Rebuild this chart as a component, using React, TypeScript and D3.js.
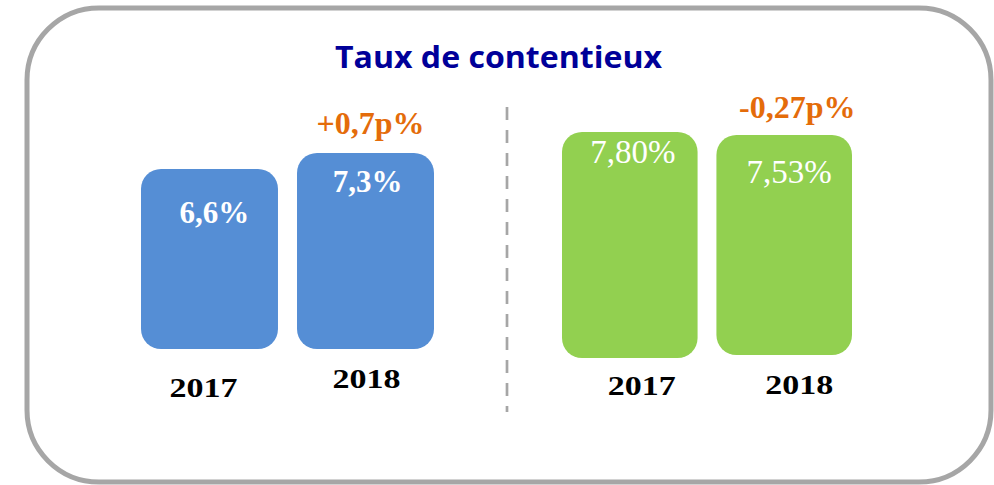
import React from "react";
import * as d3 from "d3";

const title = "Taux de contentieux";
const years = ["2017", "2018"];
const blueValues = [6.6, 7.3];
const greenValues = [7.8, 7.53];
const blueLabels = ["6,6%", "7,3%"];
const greenLabels = ["7,80%", "7,53%"];
const blueChange = "+0,7p%";
const greenChange = "-0,27p%";

const W = 994;
const H = 485;

// layout (positions only)
const groups = [
  {
    values: blueValues,
    labels: blueLabels,
    change: blueChange,
    color: "#558ED5",
    xRange: [141, 434] as [number, number],
    domain: [-1.3, 7.3] as [number, number],
    heightRange: [0, 196] as [number, number],
    anchor: "bottom",
    anchorY: 349,
    labelWeight: 700,
    labelSize: 31,
    labelDy: [54, 39],
    labelDx: [5, 2],
    yearY: [397, 388],
    yearDx: [-6, 1],
    changeDy: -19,
    changeDx: 5,
  },
  {
    values: greenValues,
    labels: greenLabels,
    change: greenChange,
    color: "#92D050",
    xRange: [562, 852] as [number, number],
    domain: [-2.37, 7.8] as [number, number],
    heightRange: [0, 226] as [number, number],
    anchor: "center",
    anchorY: 245,
    labelWeight: 400,
    labelSize: 33,
    labelDy: [31, 48],
    labelDx: [3, 5],
    yearY: [395, 394],
    yearDx: [12, 15],
    changeDy: -17,
    changeDx: 13,
  },
];

export default function App() {
  return (
    <svg
      width={W}
      height={H}
      style={{ position: "absolute", left: 0, top: 0, background: "#fff" }}
    >
      <rect x={27} y={8} width={964} height={474} rx={72} ry={72} fill="#fff" stroke="#A6A6A6" strokeWidth={5} />
      <text
        x={335}
        y={68}
        fontFamily="'Open Sans', sans-serif"
        fontWeight={700}
        fontSize={31}
        fill="#000099"
        textLength={327}
        lengthAdjust="spacingAndGlyphs"
      >
        {title}
      </text>
      <line x1={507} x2={507} y1={107} y2={412} stroke="#A6A6A6" strokeWidth={2.7} strokeDasharray="13 10" />
      {groups.map((g, gi) => {
        const x = d3.scaleBand<string>().domain(years).range(g.xRange).paddingInner(0.122).paddingOuter(0);
        const h = d3.scaleLinear().domain(g.domain).range(g.heightRange);
        return (
          <g key={gi}>
            {years.map((yr, i) => {
              const bh = h(g.values[i]);
              const top = g.anchor === "bottom" ? g.anchorY - bh : g.anchorY - bh / 2;
              const bx = x(yr)!;
              const bw = x.bandwidth();
              const cx = bx + bw / 2;
              return (
                <g key={yr}>
                  <rect x={bx} y={top} width={bw} height={bh} rx={20} ry={20} fill={g.color} />
                  <text
                    x={cx + g.labelDx[i]}
                    y={top + g.labelDy[i]}
                    textAnchor="middle"
                    fontFamily="'Liberation Serif', serif"
                    fontWeight={g.labelWeight}
                    fontSize={g.labelSize}
                    fill="#fff"
                  >
                    {g.labels[i]}
                  </text>
                  <text
                    x={cx + g.yearDx[i] - 34}
                    y={g.yearY[i]}
                    fontFamily="'Liberation Serif', serif"
                    fontWeight={700}
                    fontSize={28}
                    fill="#000"
                    textLength={68}
                    lengthAdjust="spacingAndGlyphs"
                  >
                    {yr}
                  </text>
                  {i === 1 && (
                    <text
                      x={cx + g.changeDx}
                      y={top + g.changeDy}
                      textAnchor="middle"
                      fontFamily="'Liberation Serif', serif"
                      fontWeight={700}
                      fontSize={32}
                      fill="#E46C0A"
                    >
                      {g.change}
                    </text>
                  )}
                </g>
              );
            })}
          </g>
        );
      })}
    </svg>
  );
}
